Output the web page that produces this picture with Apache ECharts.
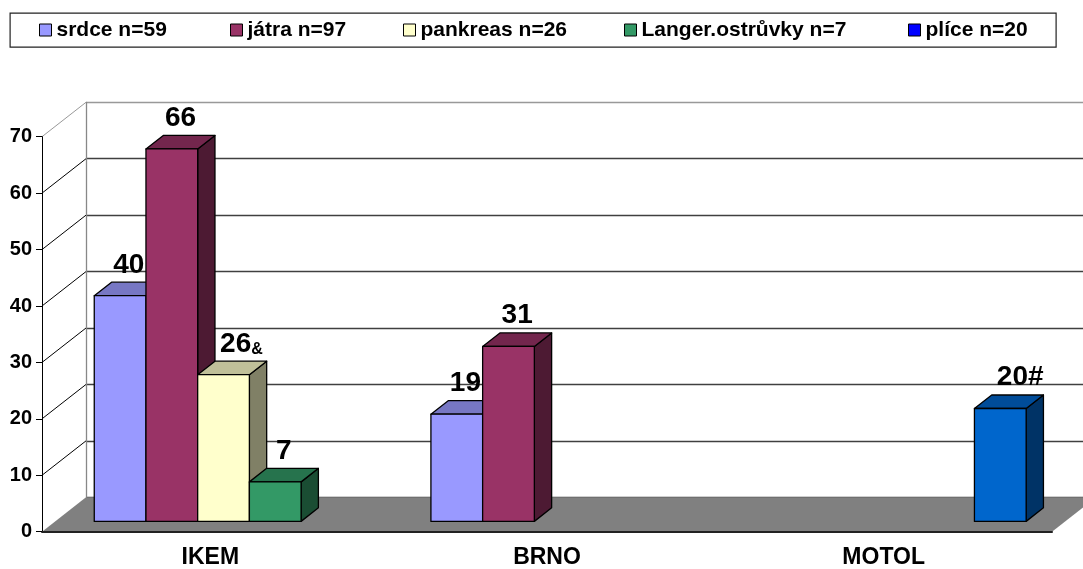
<!DOCTYPE html>
<html>
<head>
<meta charset="utf-8">
<script src="https://cdn.jsdelivr.net/npm/echarts@6/dist/echarts.min.js"></script>
<style>
  html, body { margin: 0; padding: 0; background: #fff; }
  #chart { width: 1083px; height: 569px; }
</style>
</head>
<body>
<div id="chart"></div>
<script>
// ---- data ----
const categories = ['IKEM', 'BRNO', 'MOTOL'];
const seriesNames = ['srdce n=59', 'játra n=97', 'pankreas n=26', 'Langer.ostrůvky n=7', 'plíce n=20'];
const srdce    = [40, 19, null];
const jatra    = [66, 31, null];
const pankreas = [26, null, null];
const langer   = [7, null, null];
const plice    = [null, null, 20];
// footnote marks appended to some value labels
const srdceNotes    = ['', '', ''];
const jatraNotes    = ['', '', ''];
const pankreasNotes = ['&', '', ''];
const langerNotes   = ['', '', ''];
const pliceNotes    = ['', '', '#'];
const yTicks = [0, 10, 20, 30, 40, 50, 60, 70];

const seriesValues = [srdce, jatra, pankreas, langer, plice];
const seriesNotes  = [srdceNotes, jatraNotes, pankreasNotes, langerNotes, pliceNotes];

// ---- style ----
const FONT = '"Liberation Sans", Arial, Helvetica, sans-serif';
const faceColors   = ['#9999FF', '#993366', '#FFFFCC', '#339966', '#0066CC'];
const topColors    = ['#7777C4', '#73264D', '#C0C099', '#26734D', '#004C99'];
const sideColors   = ['#4D4D80', '#4D1A33', '#808066', '#1A4D33', '#003366'];
const legendColors = ['#9999FF', '#993366', '#FFFFCC', '#339966', '#0000FF'];
const legendLefts  = [39, 230, 403, 624, 908];

// front plane of the 3D box and the depth vector to the back wall
const FRONT = { left: 42, top: 136.7, width: 1010, height: 395 };
const DEPTH = [44, -34.4];
// bars sit between these fractions of the box depth
const BAR_FRONT = 0.3;
const BAR_DEPTH = 0.393;
const BAR_WIDTH = 0.1536;            // fraction of a category band per bar
const GROUP = BAR_WIDTH * seriesNames.length;

const yMax = yTicks[yTicks.length - 1];
const yStep = yTicks[1] - yTicks[0];

const measureCtx = document.createElement('canvas').getContext('2d');
function textWidth(str, size) {
  measureCtx.font = 'bold ' + size + 'px ' + FONT;
  return measureCtx.measureText(str).width;
}

const LABEL_SIZE = 28;
const NOTE_SIZE = { '&': 16, '#': 28 };

function barRenderer(k) {
  return function (params, api) {
    const cat = api.value(0);
    const val = api.value(1);
    const note = seriesNotes[k][cat] || '';
    const base = api.coord([cat, 0]);
    const top = api.coord([cat, val]);
    const band = api.size([1, 0])[0];
    const w = band * BAR_WIDTH;
    const fx = base[0] - band * GROUP / 2 + k * w + DEPTH[0] * BAR_FRONT;
    const fyB = base[1] + DEPTH[1] * BAR_FRONT;
    const fyT = top[1] + DEPTH[1] * BAR_FRONT;
    const ddx = DEPTH[0] * BAR_DEPTH;
    const ddy = DEPTH[1] * BAR_DEPTH;
    const stroke = { stroke: '#000', lineWidth: 1.3, lineJoin: 'round' };

    const noteSize = NOTE_SIZE[note] || LABEL_SIZE;
    const shift = note ? textWidth(note, noteSize) / 2 + 3.5 : 0;
    const labelText = note ? '{n|' + val + '}{s|' + note + '}' : '{n|' + val + '}';

    return {
      type: 'group',
      children: [
        {
          type: 'polygon',
          shape: { points: [[fx + w, fyT], [fx + w + ddx, fyT + ddy], [fx + w + ddx, fyB + ddy], [fx + w, fyB]] },
          style: Object.assign({ fill: sideColors[k] }, stroke)
        },
        {
          type: 'polygon',
          shape: { points: [[fx, fyT], [fx + ddx, fyT + ddy], [fx + w + ddx, fyT + ddy], [fx + w, fyT]] },
          style: Object.assign({ fill: topColors[k] }, stroke)
        },
        {
          type: 'rect',
          shape: { x: fx, y: fyT, width: w, height: fyB - fyT },
          style: Object.assign({ fill: faceColors[k] }, stroke)
        },
        {
          type: 'text',
          style: {
            text: labelText,
            x: fx + w / 2 + ddx / 2 + shift,
            y: fyT + ddy / 2 - 24,
            align: 'center',
            verticalAlign: 'middle',
            fill: '#000',
            rich: {
              n: { fontSize: LABEL_SIZE, lineHeight: LABEL_SIZE, fontWeight: 'bold', fontFamily: FONT, fill: '#000', verticalAlign: 'bottom' },
              s: { fontSize: noteSize, lineHeight: noteSize === LABEL_SIZE ? LABEL_SIZE : 20, fontWeight: 'bold', fontFamily: FONT, fill: '#000', verticalAlign: 'bottom' }
            }
          }
        }
      ]
    };
  };
}

const barSeries = seriesNames.map(function (name, k) {
  return {
    type: 'custom',
    name: name,
    xAxisIndex: 0,
    yAxisIndex: 0,
    z: 3,
    clip: false,
    itemStyle: { color: legendColors[k] },
    encode: { x: 0, y: 1 },
    renderItem: barRenderer(k),
    data: seriesValues[k]
      .map(function (v, i) { return v == null ? null : [i, v]; })
      .filter(Boolean)
  };
});

// grey floor of the box
const floorSeries = {
  type: 'custom',
  name: 'floor',
  xAxisIndex: 0,
  yAxisIndex: 0,
  z: 1,
  silent: true,
  clip: false,
  data: [[0, 0]],
  renderItem: function (params, api) {
    const cs = params.coordSys;
    const yb = cs.y + cs.height;
    return {
      type: 'polygon',
      shape: { points: [[cs.x, yb], [cs.x + cs.width, yb], [cs.x + cs.width + DEPTH[0], yb + DEPTH[1]], [cs.x + DEPTH[0], yb + DEPTH[1]]] },
      style: { fill: '#808080' }
    };
  }
};

// side wall: diagonals from the front value ticks to the back wall
const sideWallSeries = {
  type: 'custom',
  name: 'sidewall',
  xAxisIndex: 0,
  yAxisIndex: 0,
  z: 1,
  silent: true,
  clip: false,
  data: yTicks.filter(function (v) { return v > 0; }).map(function (v) { return [0, v]; }),
  renderItem: function (params, api) {
    const cs = params.coordSys;
    const v = api.value(1);
    const y = api.coord([0, v])[1];
    return {
      type: 'line',
      shape: { x1: cs.x, y1: y, x2: cs.x + DEPTH[0], y2: y + DEPTH[1] },
      style: { stroke: v === yMax ? '#999' : '#000', lineWidth: 1 }
    };
  }
};

const gridLineColors = yTicks.map(function (v) { return v === yMax ? '#999' : '#404040'; });

const option = {
  animation: false,
  backgroundColor: '#fff',
  textStyle: { fontFamily: FONT },
  graphic: [{
    type: 'rect',
    left: 9.5,
    top: 12.5,
    z: -1,
    shape: { width: 1046, height: 34 },
    style: { fill: '#fff', stroke: '#222', lineWidth: 1.2 }
  }],
  legend: seriesNames.map(function (name, i) {
    return {
      data: [name],
      left: legendLefts[i],
      top: 19.5,
      padding: 0,
      itemWidth: 12,
      itemHeight: 12,
      itemGap: 0,
      icon: 'rect',
      selectedMode: false,
      itemStyle: { color: legendColors[i], borderColor: '#000', borderWidth: 1 },
      textStyle: { fontFamily: FONT, fontWeight: 'bold', fontSize: 21, color: '#000', padding: [0, 0, 0, 0] }
    };
  }),
  grid: [
    { left: FRONT.left, top: FRONT.top, width: FRONT.width, height: FRONT.height, containLabel: false },
    { left: FRONT.left + DEPTH[0], top: FRONT.top + DEPTH[1], width: FRONT.width, height: FRONT.height, containLabel: false }
  ],
  xAxis: [
    {
      type: 'category',
      gridIndex: 0,
      data: categories,
      z: 5,
      axisLine: { lineStyle: { color: '#222', width: 2 } },
      axisTick: { length: 6, lineStyle: { color: '#222', width: 1 } },
      axisLabel: { fontFamily: FONT, fontWeight: 'bold', fontSize: 23, color: '#000', margin: 14 },
      splitLine: { show: false }
    },
    {
      type: 'category',
      gridIndex: 1,
      data: categories,
      show: false
    }
  ],
  yAxis: [
    {
      type: 'value',
      gridIndex: 0,
      min: 0,
      max: yMax,
      interval: yStep,
      z: 5,
      axisLine: { show: true, lineStyle: { color: '#000', width: 1 } },
      axisTick: { show: true, length: 6, lineStyle: { color: '#000', width: 1 } },
      axisLabel: { fontFamily: FONT, fontWeight: 'bold', fontSize: 20, color: '#000', margin: 10 },
      splitLine: { show: false }
    },
    {
      type: 'value',
      gridIndex: 1,
      min: 0,
      max: yMax,
      interval: yStep,
      axisLine: { show: true, lineStyle: { color: '#888', width: 1.3 } },
      axisTick: { show: false },
      axisLabel: { show: false },
      splitLine: { show: true, lineStyle: { color: gridLineColors, width: 1.3 } }
    }
  ],
  series: [floorSeries, sideWallSeries].concat(barSeries)
};

const chart = echarts.init(document.getElementById('chart'), null, { renderer: 'canvas' });
chart.setOption(option);
</script>
</body>
</html>
